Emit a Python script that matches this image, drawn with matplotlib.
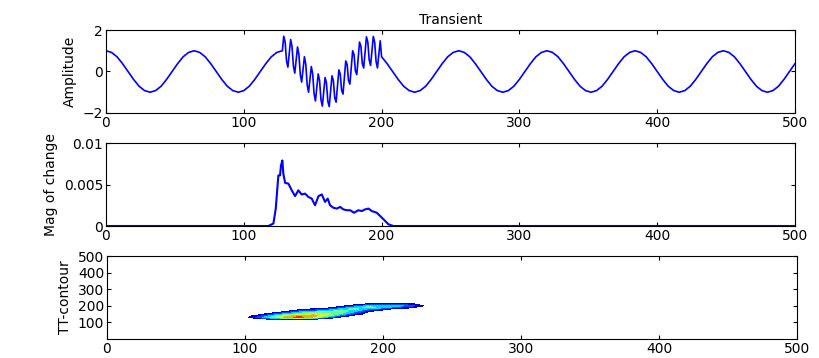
import numpy as np
import matplotlib
matplotlib.use("Agg")
import matplotlib.pyplot as plt

# --- top panel: signal -------------------------------------------------
# smooth part before the transient, every 4 samples (x = 0..124)
amp_before = [1, .92, .71, .38, 0, -.38, -.71, -.92, -1, -.92, -.71, -.38,
              0, .38, .71, .92,
              1, .92, .71, .38, 0, -.38, -.71, -.92, -1, -.92, -.71, -.38,
              0, .38, .71, .92]
# transient part, every sample (x = 128..200)
amp_transient = [1.00, 1.70, 1.42, .52, .21, .88, 1.54, 1.21, .27, -.08,
                 .56, 1.18, .82, -.15, -.51, .10, .71, .34, -.64, -1.00,
                 -.38, .24, -.12, -1.07, -1.42, -.77, -.12, -.44, -1.36, -1.67,
                 -.98, -.29, -.56, -1.44, -1.69, -.96, -.21, -.44, -1.27, -1.48,
                 -.71, .08, -.12, -.91, -1.09, -.29, .51, .34, -.44, -.61,
                 .20, 1.00, .82, .03, -.15, .63, 1.42, 1.21, .39, .17,
                 .92, 1.67, 1.42, .56, .29, .99, 1.69, 1.40, .48, .17,
                 .83, 1.48, .71]
# smooth part after the transient, every 4 samples (x = 204..500)
amp_after = [.38, 0, -.38, -.71, -.92, -1, -.92, -.71, -.38, 0, .38, .71, .92,
             1, .92, .71, .38, 0, -.38, -.71, -.92, -1, -.92, -.71, -.38,
             0, .38, .71, .92,
             1, .92, .71, .38, 0, -.38, -.71, -.92, -1, -.92, -.71, -.38,
             0, .38, .71, .92,
             1, .92, .71, .38, 0, -.38, -.71, -.92, -1, -.92, -.71, -.38,
             0, .38, .71, .92,
             1, .92, .71, .38, 0, -.38, -.71, -.92, -1, -.92, -.71, -.38,
             0, .38]

x_before = np.arange(0, 128, 4)
x_transient = np.arange(128, 201)
x_after = np.arange(204, 501, 4)

# --- middle panel: magnitude of change ---------------------------------
mag_x = [0, 117.8, 121.5, 123.2, 125.1, 126.3, 127, 128, 128.7, 130, 132.4,
         134.8, 137.2, 139.6, 142, 144.5, 146.9, 149.3, 151.7, 154.2, 156.6,
         159, 160.9, 162.6, 165, 167.5, 169.9, 172.3, 174.7, 177.2, 180,
         183.2, 185.6, 188, 190.5, 192.9, 196.5, 199, 201.4, 205, 208.6, 500]
mag_y = [0, 0, .0003, .0021, .0061, .0061, .0073, .0079, .0063, .0052, .0051,
         .0043, .0036, .0043, .0038, .0039, .0035, .0033, .0025, .0036, .0038,
         .0029, .0033, .0025, .0022, .0021, .0023, .0020, .0019, .0019, .0016,
         .0019, .0018, .0020, .0021, .0018, .0016, .0012, .0008, .0002, 0, 0]

# --- bottom panel: TT-contour intensity on a coarse grid ---------------
tt_x = np.arange(100, 231, 10)
tt_y = np.arange(110, 221, 10)
# rows: y = 110..220, columns: x = 100..230
tt_z = np.array([
    [0, 0,   0,   0,   0,   0,   0,   0,   0,   0,   0,   0,   0,   0],    # 110
    [0, 0,  .8,   1,   1,  .6,   0,   0,   0,   0,   0,   0,   0,   0],    # 120
    [0, 2,   4,   6,   7,   5,   2,   0,   0,   0,   0,   0,   0,   0],    # 130
    [0, 1,   3,   5,   6,   6,   4, 1.5,   0,   0,   0,   0,   0,   0],    # 140
    [0, 0, 1.5,   3,   4,   5,   5,   3,   1,   0,   0,   0,   0,   0],    # 150
    [0, 0,   0, 1.5,   3,   4,   4,   4,   2,   0,   0,   0,   0,   0],    # 160
    [0, 0,   0,   0, 1.5,   2,   3,   4,   3,   1,   0,   0,   0,   0],    # 170
    [0, 0,   0,   0,   0,  .8, 1.5,   3,   4,   2,   1,   0,   0,   0],    # 180
    [0, 0,   0,   0,   0,   0,   0, 1.5,   3,   4,   3, 1.5,  .7,   0],    # 190
    [0, 0,   0,   0,   0,   0,   0,   0, 1.5,   3,   3,   3,   2,  .4],    # 200
    [0, 0,   0,   0,   0,   0,   0,   0,   0,  .8,   1,   1,  .8,   0],    # 210
    [0, 0,   0,   0,   0,   0,   0,   0,   0,   0,   0,   0,   0,   0],    # 220
])

x_ticks = [0, 100, 200, 300, 400, 500]

plt.rcParams["font.family"] = ["DejaVu Sans"]
plt.rcParams["font.size"] = 10

fig = plt.figure(figsize=(8.19, 3.58), dpi=100)
ax1 = fig.add_axes([0.1294, 0.6844, 0.8413, 0.2318])
ax2 = fig.add_axes([0.1294, 0.3687, 0.8413, 0.2318])
ax3 = fig.add_axes([0.1306, 0.0531, 0.8425, 0.2318])

label_font = {"family": ["Liberation Sans Narrow", "DejaVu Sans"], "size": 10}

x_sig = np.concatenate([x_before, x_transient, x_after])
y_sig = np.concatenate([amp_before, amp_transient, amp_after])
ax1.plot(x_sig, y_sig, color="#0000ff", lw=1.2)
ax1.set_ylim(-2, 2)
ax1.set_yticks([-2, 0, 2])
ax1.set_ylabel("Amplitude", fontdict=label_font)
ax1.set_title("Transient", fontsize=10, pad=4)

ax2.plot(mag_x, mag_y, color="#0000ff", lw=1.5)
ax2.set_ylim(0, 0.01)
ax2.set_yticks([0, 0.005, 0.01])
ax2.set_yticklabels(["0", "0.005", "0.01"])
ax2.set_ylabel("Mag of change", fontdict=label_font)

levels = np.arange(0.5, 8.5, 1.0)
ax3.contourf(tt_x, tt_y, tt_z, levels=levels, cmap="jet", vmin=0.5, vmax=8)
ax3.set_ylim(0, 500)
ax3.set_yticks([100, 200, 300, 400, 500])
ax3.set_ylabel("TT-contour", fontdict=label_font)

for ax in (ax1, ax2, ax3):
    ax.set_xlim(0, 500)
    ax.set_xticks(x_ticks)
    ax.tick_params(direction="in", length=3, width=0.8, top=True, right=True,
                   labelsize=10, pad=2)
    for s in ax.spines.values():
        s.set_linewidth(0.8)

fig.savefig("out.png", dpi=100)
